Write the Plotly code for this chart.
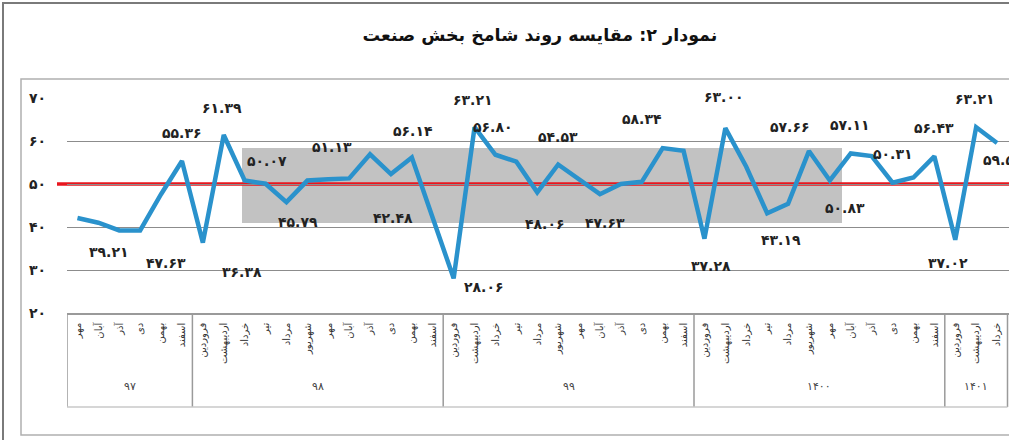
import plotly.graph_objects as go

# ---------------- data ----------------
years = ["۹۷", "۹۸", "۹۹", "۱۴۰۰", "۱۴۰۱"]
months_97 = ["مهر", "آبان", "آذر", "دی", "بهمن", "اسفند"]
months_98 = ["فروردین", "اردیبهشت", "خرداد", "تیر", "مرداد", "شهریور",
             "مهر", "آبان", "آذر", "دی", "بهمن", "اسفند"]
months_99 = list(months_98)
months_1400 = list(months_98)
months_1401 = ["فروردین", "اردیبهشت", "خرداد"]

values_97 = [42.1, 41.0, 39.21, 39.2, 47.63, 55.36]
values_98 = [36.38, 61.39, 50.8, 50.07, 45.79, 50.8, 51.13, 51.3, 56.9, 52.3, 56.14, 42.48]
values_99 = [28.06, 63.21, 56.80, 55.2, 48.06, 54.53, 51.2, 47.63, 50.0, 50.5, 58.34, 57.7]
values_1400 = [37.28, 63.00, 54.0, 43.19, 45.4, 57.66, 50.83, 57.11, 56.5, 50.31, 51.5, 56.43]
values_1401 = [37.02, 63.21, 59.52]

threshold = 50
y_ticks = [20, 30, 40, 50, 60, 70]

# labelled points (index in the series)
labelled_points = [2, 4, 5, 7, 6, 9, 10, 12, 16, 17, 19, 20, 18, 23, 22, 25,
                   28, 31, 30, 35, 33, 37, 36, 39, 41, 42, 43, 44]

# ---------------- styles / placement ----------------
label_shift = [(-10, -22), (5, -69), (0, 28), (-2, 27), (39, -29), (1, 23), (12, -20),
               (4, 32), (1, 27), (-40, -2), (-2, 27), (-2, 28), (30, -9), (0, 28),
               (8, -32), (5, -29), (-21, 29), (-1, 31), (7, -27), (-19, 24), (14, -27),
               (-1, 28), (15, -28), (0, 29), (0, 28), (-7, -23), (-1, 28), (6, -17)]

W, H = 1009, 440
ML, MR, MT, MB = 67, 0, 98, 127
PW, PH = W - ML - MR, H - MT - MB
FONT = "DejaVu Sans"


def px(x):
    return (x - ML) / PW


def py(y):
    return (H - MB - y) / PH


fa_digits = str.maketrans("0123456789", "۰۱۲۳۴۵۶۷۸۹")


def fa(s):
    return str(s).translate(fa_digits)


groups = [months_97, months_98, months_99, months_1400, months_1401]
month_labels = [m for g in groups for m in g]
values = values_97 + values_98 + values_99 + values_1400 + values_1401
idx = list(range(len(values)))

fig = go.Figure()
fig.add_trace(go.Scatter(
    x=idx, y=values, mode="lines",
    line=dict(color="#2a92cc", width=4.5),
    hoverinfo="skip", showlegend=False, cliponaxis=False,
))

shapes = []
# outer frames
shapes.append(dict(type="rect", xref="paper", yref="paper",
                   x0=px(3), x1=px(1030), y0=py(3), y1=py(460),
                   line=dict(color="#7a7a7a", width=2), layer="below"))
shapes.append(dict(type="rect", xref="paper", yref="paper",
                   x0=px(21), x1=px(1030), y0=py(79), y1=py(435),
                   line=dict(color="#b0b0b0", width=1.5), layer="below"))
# watermark gray block
shapes.append(dict(type="rect", xref="paper", yref="paper",
                   x0=px(242), x1=px(842), y0=py(148), y1=py(223),
                   fillcolor="#c2c2c2", line=dict(width=0), layer="between"))
# threshold line
shapes.append(dict(type="line", xref="paper", yref="y",
                   x0=px(57), x1=1.0, y0=threshold, y1=threshold,
                   line=dict(color="#e8161e", width=3.5), layer="between"))

# category box
bounds = [-0.5]
for g in groups:
    bounds.append(bounds[-1] + len(g))
box_bottom = py(407)
for b in bounds:
    shapes.append(dict(type="line", xref="x", yref="paper", x0=b, x1=b,
                       y0=0, y1=box_bottom, line=dict(color="#9a9a9a", width=1.5)))
shapes.append(dict(type="line", xref="x", yref="paper", x0=bounds[0], x1=bounds[-1],
                   y0=box_bottom, y1=box_bottom, line=dict(color="#c8c8c8", width=1.5)))

annotations = []
for (i, (dx, dy)) in zip(labelled_points, label_shift):
    annotations.append(dict(
        x=i, y=values[i], xref="x", yref="y", text="<b>" + fa(f"{values[i]:.2f}") + "</b>",
        showarrow=False, xshift=dx, yshift=dy,
        font=dict(family=FONT, size=14, color="#222222")))

for k, yname in enumerate(years):
    c = (bounds[k] + bounds[k + 1]) / 2
    annotations.append(dict(x=c, y=py(395), xref="x", yref="paper", text=yname,
                            showarrow=False, font=dict(family=FONT, size=11, color="#444")))

fig.update_layout(
    width=W, height=H,
    margin=dict(l=ML, r=MR, t=MT, b=MB),
    paper_bgcolor="white", plot_bgcolor="white",
    title=dict(text="<b>نمودار ۲: مقایسه روند شامخ بخش صنعت</b>",
               x=540 / W, xref="container", xanchor="center",
               y=1 - 35 / H, yref="container", yanchor="middle",
               font=dict(family=FONT, size=17.5, color="#111")),
    shapes=shapes, annotations=annotations,
    xaxis=dict(range=[-0.5, PW / 20.9 - 0.5], tickmode="array", tickvals=idx,
               ticktext=month_labels, tickangle=-90, showgrid=False, zeroline=False,
               showline=True, linecolor="#9a9a9a", linewidth=1.5, ticks="",
               ticklabelstandoff=4,
               tickfont=dict(family=FONT, size=10, color="#333")),
    yaxis=dict(range=[20, 70], tickmode="array", tickvals=y_ticks,
               ticktext=["<b>" + fa(t) + "</b>" for t in y_ticks], showgrid=True,
               gridcolor="#8c8c8c", gridwidth=1, zeroline=False, showline=False, ticks="",
               ticklabelstandoff=20,
               tickfont=dict(family=FONT, size=14, color="#222")),
    showlegend=False,
)

fig.write_html("out.html", config={"displayModeBar": False},
               post_script="document.body.style.margin='0px';document.body.style.overflow='hidden';")
